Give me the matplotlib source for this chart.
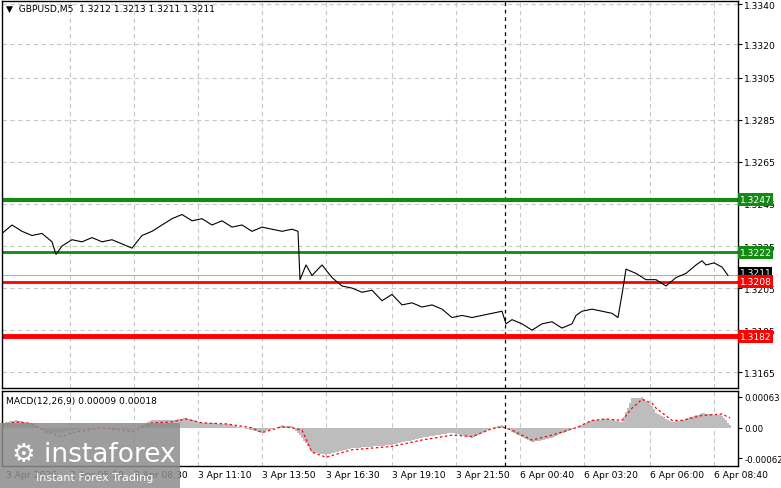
import matplotlib.pyplot as plt
import matplotlib.patches as mpatches
import numpy as np

# price trace (bar index, close)
bars = [0, 5, 10, 15, 20, 25, 27, 30, 35, 40, 45, 50, 55, 60, 65, 70, 75, 80, 85, 90,
        95, 100, 105, 110, 115, 120, 125, 130, 135, 140, 145, 148, 149, 152, 155, 160, 165, 170, 175, 180,
        185, 190, 195, 200, 205, 210, 215, 220, 225, 230, 235, 240, 245, 250, 252, 255, 260, 265, 270, 275,
        280, 285, 287, 290, 295, 300, 305, 308, 310, 312, 317, 322, 327, 332, 337, 342, 347, 350, 352, 356,
        360, 363]
close = [1.3231, 1.3235, 1.3232, 1.3230, 1.3231, 1.3227, 1.3221, 1.3225, 1.3228, 1.3227, 1.3229, 1.3227,
         1.3228, 1.3226, 1.3224, 1.3230, 1.3232, 1.3235, 1.3238, 1.3240, 1.3237, 1.3238, 1.3235, 1.3237,
         1.3234, 1.3235, 1.3232, 1.3234, 1.3233, 1.3232, 1.3233, 1.3232, 1.3209, 1.3216, 1.3211, 1.3216,
         1.3210, 1.3206, 1.3205, 1.3203, 1.3204, 1.3199, 1.3202, 1.3197, 1.3198, 1.3196, 1.3197, 1.3195,
         1.3191, 1.3192, 1.3191, 1.3192, 1.3193, 1.3194, 1.3188, 1.3190, 1.3188, 1.3185, 1.3188, 1.3189,
         1.3186, 1.3188, 1.3192, 1.3194, 1.3195, 1.3194, 1.3193, 1.3191, 1.3202, 1.3214, 1.3212, 1.3209,
         1.3209, 1.3206, 1.3210, 1.3212, 1.3216, 1.3218, 1.3216, 1.3217, 1.3215, 1.3211]

# MACD histogram and signal
macd_bars = [0, 7, 15, 22, 30, 35, 50, 65, 75, 85, 92, 100, 112, 125, 130, 140, 145, 150, 155, 162,
             175, 195, 210, 225, 235, 245, 250, 255, 265, 275, 287, 295, 302, 310, 315, 320, 325, 327, 335,
             340, 350, 360, 364]
macd_hist = [0.00010, 0.00015, 0.00010, -0.00010, -0.00010, -0.00005, 0.00000, -0.00005, 0.00015, 0.00015,
             0.00020, 0.00010, 0.00008, -0.00005, -0.00010, 0.00005, 0.00003, -0.00020, -0.00050, -0.00055,
             -0.00042, -0.00035, -0.00020, -0.00010, -0.00020, 0.00000, 0.00005, -0.00008, -0.00030, -0.00020,
             0.00000, 0.00015, 0.00018, 0.00012, 0.00060, 0.00062, 0.00045, 0.00030, 0.00012, 0.00015,
             0.00030, 0.00025, 0.00005]
macd_signal = [0.00005, 0.00012, 0.00008, -0.00008, -0.00018, -0.00010, 0.00000, -0.00008, 0.00010, 0.00012,
               0.00018, 0.00010, 0.00008, 0.00000, -0.00010, 0.00002, 0.00000, -0.00005, -0.00050, -0.00060,
               -0.00045, -0.00038, -0.00025, -0.00015, -0.00018, -0.00002, 0.00002, -0.00005, -0.00025, -0.00015,
               0.00000, 0.00015, 0.00018, 0.00015, 0.00040, 0.00058, 0.00050, 0.00040, 0.00015, 0.00015,
               0.00025, 0.00028, 0.00020]

levels = [1.3247, 1.3222, 1.3208, 1.3182]
level_colors = ["#138a13", "#138a13", "#ff0000", "#ff0000"]
level_widths = [3.0, 2.0, 2.0, 3.5]
last_price = 1.3211

price_ticks = [1.3340, 1.3321, 1.3305, 1.3285, 1.3265, 1.3245, 1.3225, 1.3205, 1.3185, 1.3165]
price_labels = ["1.3340", "1.3320", "1.3305", "1.3285", "1.3265", "1.3245", "1.3225", "1.3205", "1.3185", "1.3165"]
time_ticks = [2, 34, 66, 98, 130, 162, 195, 227, 259, 291, 324, 356]
time_labels = ["3 Apr 2026", "3 Apr 05:50", "3 Apr 08:30", "3 Apr 11:10", "3 Apr 13:50", "3 Apr 16:30",
               "3 Apr 19:10", "3 Apr 21:50", "6 Apr 00:40", "6 Apr 03:20", "6 Apr 06:00", "6 Apr 08:40"]
grid_x = [34, 66, 98, 130, 162, 195, 227, 259, 291, 324, 356]

W, H = 781, 489
FS = 6.6
plt.rcParams["font.family"] = "DejaVu Sans"
fig = plt.figure(figsize=(7.81, 4.89), dpi=100)
ax = fig.add_axes([2 / W, 1 - 389 / H, 736 / W, 387 / H])
mx = fig.add_axes([2 / W, 1 - 467 / H, 736 / W, 75 / H])

for a in (ax, mx):
    a.set_xlim(0, 368)
    for s in a.spines.values():
        s.set_color("black")
        s.set_linewidth(1)
    for gx in grid_x:
        a.axvline(gx, color="#c8c8c8", lw=0.8, ls=(0, (4, 3)), zorder=0)
    a.axvline(251.5, color="black", lw=0.9, ls=(0, (3, 3)), zorder=1)
    a.yaxis.tick_right()
    a.tick_params(axis="y", labelsize=FS, length=3, pad=1.5)
    a.tick_params(axis="x", length=0)

ax.set_ylim(1.31575, 1.33415)
for pt in price_ticks:
    ax.axhline(pt, color="#c8c8c8", lw=0.8, ls=(0, (4, 3)), zorder=0)
ax.set_yticks(price_ticks, price_labels)
ax.set_xticks([])
ax.axhline(last_price, color="#b0b0b0", lw=0.8, zorder=1)
ax.plot(bars, close, color="black", lw=0.8, zorder=3)
for lv, c, w in zip(levels, level_colors, level_widths):
    ax.axhline(lv, color=c, lw=w, zorder=2)
    ax.text(1.002, lv, f"{lv:.4f}", transform=ax.get_yaxis_transform(), va="center", ha="left",
            fontsize=FS, color="white", bbox=dict(boxstyle="square,pad=0.2", fc=c, ec="none"))
ax.text(1.002, last_price + 0.00015, f"{last_price:.4f}", transform=ax.get_yaxis_transform(), va="center",
        ha="left", fontsize=FS, color="white", bbox=dict(boxstyle="square,pad=0.1", fc="black", ec="none"),
        zorder=1)
ax.text(0.006, 0.992, "\u25bc  GBPUSD,M5  1.3212 1.3213 1.3211 1.3211", transform=ax.transAxes,
        va="top", ha="left", fontsize=FS)

mx.set_ylim(-0.00078, 0.00075)
hb = np.arange(0, 365)
mx.bar(hb, np.interp(hb, macd_bars, macd_hist), width=1.0, color="#bdbdbd", zorder=2)
mx.plot(macd_bars, macd_signal, color="red", lw=0.9, ls=(0, (2, 2)), zorder=3)
mx.set_yticks([0.00063, 0.0, -0.00062], ["0.00063", "0.00", "-0.00062"])
mx.tick_params(axis="y", labelsize=6.2)
mx.set_xticks(time_ticks, time_labels, ha="left", fontsize=FS)
mx.tick_params(axis="x", pad=3)
mx.text(0.006, 0.93, "MACD(12,26,9) 0.00009 0.00018", transform=mx.transAxes, va="top", ha="left",
        fontsize=FS)

# watermark logo
fig.patches.append(mpatches.Rectangle((0, 0), 180 / W, 65 / H, transform=fig.transFigure,
                                      fc="#8c8c8c", alpha=0.85, ec="none", zorder=10))
fig.text(12 / W, 1 - 462 / H, "\u2699 instaforex", color="white", fontsize=19, zorder=11, va="baseline")
fig.text(36 / W, 1 - 481 / H, "Instant Forex Trading", color="white", fontsize=8, zorder=11)

fig.savefig("out.png", dpi=100, facecolor="white")
